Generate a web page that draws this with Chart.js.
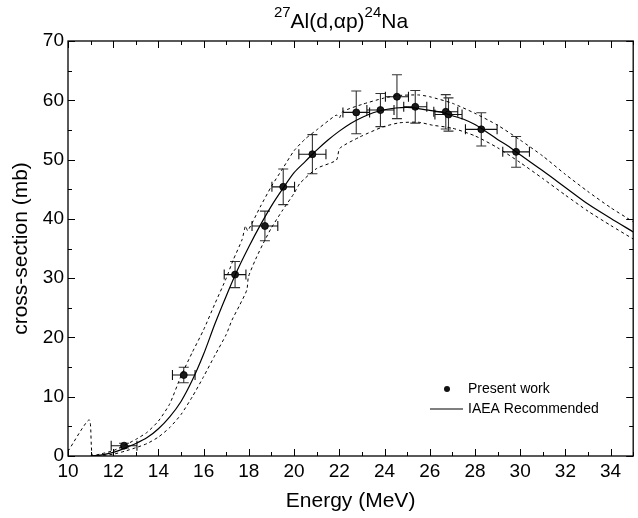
<!DOCTYPE html>
<html><head><meta charset="utf-8">
<script src="https://cdn.jsdelivr.net/npm/chart.js@4"></script>
<style>html,body{margin:0;padding:0;background:#fff}#wrap{width:638px;height:518px}</style>
</head><body><div id="wrap"><canvas id="c" width="638" height="518"></canvas></div>
<script>
// Measured data: Present work
const energy       = [12.48, 15.12, 17.39, 18.71, 19.52, 20.81, 22.75, 23.82, 24.55, 25.36, 26.71, 26.83, 28.28, 29.82];
const crossSection = [1.74, 13.66, 30.6, 38.8, 45.4, 50.9, 57.96, 58.35, 60.6, 58.9, 58.06, 57.6, 55.1, 51.3];
const energyErr    = [0.57, 0.5, 0.48, 0.57, 0.5, 0.6, 0.59, 0.6, 0.51, 0.51, 0.53, 0.6, 0.7, 0.59];
const crossErr     = [0.4, 1.3, 2.2, 2.5, 3.0, 3.3, 3.6, 2.8, 3.7, 2.75, 2.9, 2.8, 2.8, 2.6];

// IAEA recommended curve
const recE = [11, 11.5, 12, 12.5, 13, 13.5, 14, 14.5, 15, 15.5, 16, 16.5, 17, 17.5, 18, 18.5, 19, 19.5, 20, 20.5, 21, 21.5, 22, 22.5, 23, 23.5, 24, 24.5, 25, 25.5, 26, 26.5, 27, 27.5, 28, 28.5, 29, 29.5, 30, 31, 32, 33, 34, 35];
const recCS = [0, 0.2, 0.6, 1.3, 2.1, 3.1, 4.6, 6.6, 9.2, 12.8, 17.2, 22.3, 27, 31.4, 35.3, 38.9, 42.2, 45.1, 47.8, 49.7, 51.6, 53.3, 54.8, 56.1, 57.1, 57.9, 58.4, 58.7, 58.8, 58.6, 58.3, 58.0, 57.4, 56.8, 55.9, 54.7, 53.4, 52.2, 50.8, 48.1, 45.3, 42.5, 40.1, 37.8];

// Upper uncertainty band
const upE  = [10, 10.94, 11.08, 11.5, 12, 12.5, 13, 13.5, 14, 14.5, 15, 15.5, 16, 16.5, 17, 17.3, 17.7, 17.85, 17.95, 18.5, 19, 19.5, 20, 20.5, 21, 21.5, 21.87, 22.0, 22.15, 23, 24, 24.6, 25.5, 26, 27, 28, 29, 30, 31, 32, 33, 34, 35];
const upCS = [0.8, 6.1, 0.1, 0.4, 0.9, 1.8, 2.8, 4.0, 5.9, 8.8, 13.5, 17.5, 21.3, 25.7, 30, 33, 36.5, 38.8, 38.0, 42, 45.5, 48.5, 51.5, 53.5, 55, 56.5, 57.5, 57.0, 58.1, 59.3, 60.4, 60.8, 60.9, 60.6, 59.5, 57.8, 55.8, 53.3, 50.6, 47.5, 44.6, 41.9, 39.5];

// Lower uncertainty band
const loE  = [11.3, 12, 12.5, 13, 13.5, 14, 14.5, 15, 15.5, 16, 16.5, 17, 17.25, 17.6, 17.91, 17.98, 18.3, 18.64, 19, 19.5, 20, 20.26, 21, 21.87, 22.02, 22.9, 23.92, 24.66, 25.5, 26.12, 27, 28, 29, 30, 31, 32, 33, 34, 35];
const loCS = [0, 0.3, 0.8, 1.4, 2.1, 3.2, 4.8, 7, 10, 13.4, 17, 20.5, 22.9, 25.5, 28, 30.2, 33.2, 35.9, 38.5, 41.5, 44.3, 46, 48.5, 49.9, 51.9, 53.8, 55.5, 56.2, 56.3, 55.8, 55.3, 54.0, 52.0, 49.5, 46.8, 44.0, 41.3, 38.9, 36.6];

const xTicks = [10, 12, 14, 16, 18, 20, 22, 24, 26, 28, 30, 32, 34];
const yTicks = [0, 10, 20, 30, 40, 50, 60, 70];
const xMinor = [11, 13, 15, 17, 19, 21, 23, 25, 27, 29, 31, 33, 35];
const yMinor = [5, 15, 25, 35, 45, 55, 65];

const pts = (xs, ys) => xs.map((x, i) => ({x: x, y: ys[i]}));
const FONT = "'Liberation Sans', Arial, sans-serif";

const framePlugin = {
  id: 'frame',
  beforeDatasetsDraw(chart) {
    const ctx = chart.ctx, xs = chart.scales.x, ys = chart.scales.y;
    ctx.save();
    ctx.lineWidth = 1.1;
    energy.forEach((e, i) => {
      const px = xs.getPixelForValue(e), py = ys.getPixelForValue(crossSection[i]);
      const x1 = xs.getPixelForValue(e - energyErr[i]), x2 = xs.getPixelForValue(e + energyErr[i]);
      const y1 = ys.getPixelForValue(crossSection[i] - crossErr[i]), y2 = ys.getPixelForValue(crossSection[i] + crossErr[i]);
      ctx.strokeStyle = '#333';
      ctx.beginPath();
      ctx.moveTo(px, y1); ctx.lineTo(px, y2);
      ctx.moveTo(px - 5, y1); ctx.lineTo(px + 5, y1);
      ctx.moveTo(px - 5, y2); ctx.lineTo(px + 5, y2);
      ctx.stroke();
      ctx.strokeStyle = '#111';
      ctx.beginPath();
      ctx.moveTo(x1, py); ctx.lineTo(x2, py);
      ctx.moveTo(x1, py - 5); ctx.lineTo(x1, py + 5);
      ctx.moveTo(x2, py - 5); ctx.lineTo(x2, py + 5);
      ctx.stroke();
    });
    ctx.restore();
  },
  afterDraw(chart) {
    const ctx = chart.ctx, a = chart.chartArea, xs = chart.scales.x, ys = chart.scales.y;
    ctx.save();
    ctx.strokeStyle = '#000';
    ctx.lineWidth = 1.3;
    ctx.strokeRect(a.left, a.top, a.right - a.left, a.bottom - a.top);
    ctx.lineWidth = 1;
    ctx.beginPath();
    const tickX = (v, len) => {
      const p = Math.round(xs.getPixelForValue(v)) + 0.5;
      ctx.moveTo(p, a.bottom); ctx.lineTo(p, a.bottom - len);
      ctx.moveTo(p, a.top); ctx.lineTo(p, a.top + len);
    };
    const tickY = (v, len) => {
      const p = Math.round(ys.getPixelForValue(v)) + 0.5;
      ctx.moveTo(a.left, p); ctx.lineTo(a.left + len, p);
      ctx.moveTo(a.right, p); ctx.lineTo(a.right - len, p);
    };
    xTicks.forEach(v => tickX(v, 7));
    xMinor.forEach(v => tickX(v, 4));
    yTicks.forEach(v => tickY(v, 7));
    yMinor.forEach(v => tickY(v, 4));
    ctx.stroke();

    // Title with superscripts
    ctx.fillStyle = '#000';
    ctx.textBaseline = 'alphabetic';
    const parts = [['27', true], ['Al(d,\u03B1p)', false], ['24', true], ['Na', false]];
    const big = '21px ' + FONT, small = '15px ' + FONT;
    let w = 0;
    parts.forEach(p => { ctx.font = p[1] ? small : big; w += ctx.measureText(p[0]).width; });
    let x = 341 - w / 2;
    const base = 28;
    parts.forEach(p => {
      ctx.font = p[1] ? small : big;
      ctx.fillText(p[0], x, p[1] ? base - 11 : base);
      x += ctx.measureText(p[0]).width;
    });

    // Legend
    ctx.font = '14px ' + FONT;
    ctx.textAlign = 'left';
    ctx.textBaseline = 'middle';
    ctx.beginPath();
    ctx.arc(447, 389, 3, 0, Math.PI * 2);
    ctx.fillStyle = '#111';
    ctx.fill();
    ctx.fillStyle = '#000';
    ctx.fillText('Present work', 468, 389);
    ctx.beginPath();
    ctx.lineWidth = 1.2;
    ctx.moveTo(430, 409); ctx.lineTo(463, 409);
    ctx.stroke();
    ctx.fillText('IAEA Recommended', 468, 409);
    ctx.restore();
  }
};

new Chart(document.getElementById('c'), {
  type: 'scatter',
  data: {
    datasets: [
      { label: 'Upper', data: pts(upE, upCS), showLine: true, borderColor: '#000', borderWidth: 1, borderDash: [3, 3], pointRadius: 0, tension: 0.2 },
      { label: 'Lower', data: pts(loE, loCS), showLine: true, borderColor: '#000', borderWidth: 1, borderDash: [3, 3], pointRadius: 0, tension: 0.2 },
      { label: 'IAEA Recommended', data: pts(recE, recCS), showLine: true, borderColor: '#000', borderWidth: 1.2, pointRadius: 0, tension: 0.3 },
      { label: 'Present work', data: pts(energy, crossSection), showLine: false, pointRadius: 3.5, pointBackgroundColor: '#1a1a1a', pointBorderColor: '#000', pointBorderWidth: 0.8 }
    ]
  },
  options: {
    responsive: false,
    devicePixelRatio: 1,
    animation: false,
    layout: { padding: { top: 41, right: 3, left: 0, bottom: 0 } },
    plugins: { legend: { display: false }, tooltip: { enabled: false } },
    scales: {
      x: {
        type: 'linear', min: 10, max: 35,
        afterBuildTicks: s => { s.ticks = xTicks.map(v => ({ value: v })); },
        afterFit: s => { s.height = 62; },
        grid: { display: false, drawTicks: false },
        border: { display: false },
        ticks: { color: '#000', font: { family: FONT, size: 19 }, padding: 4, maxRotation: 0, autoSkip: false },
        title: { display: true, text: 'Energy (MeV)', color: '#000', font: { family: FONT, size: 21 }, padding: { top: 4, bottom: 4 } }
      },
      y: {
        type: 'linear', min: 0, max: 70,
        afterBuildTicks: s => { s.ticks = yTicks.map(v => ({ value: v })); },
        afterFit: s => { s.width = 68; },
        grid: { display: false, drawTicks: false },
        border: { display: false },
        ticks: { color: '#000', font: { family: FONT, size: 19 }, padding: 4, autoSkip: false },
        title: { display: true, text: 'cross-section (mb)', color: '#000', font: { family: FONT, size: 21 }, padding: { top: 9, bottom: 2 } }
      }
    }
  },
  plugins: [framePlugin]
});
</script>
</body></html>
